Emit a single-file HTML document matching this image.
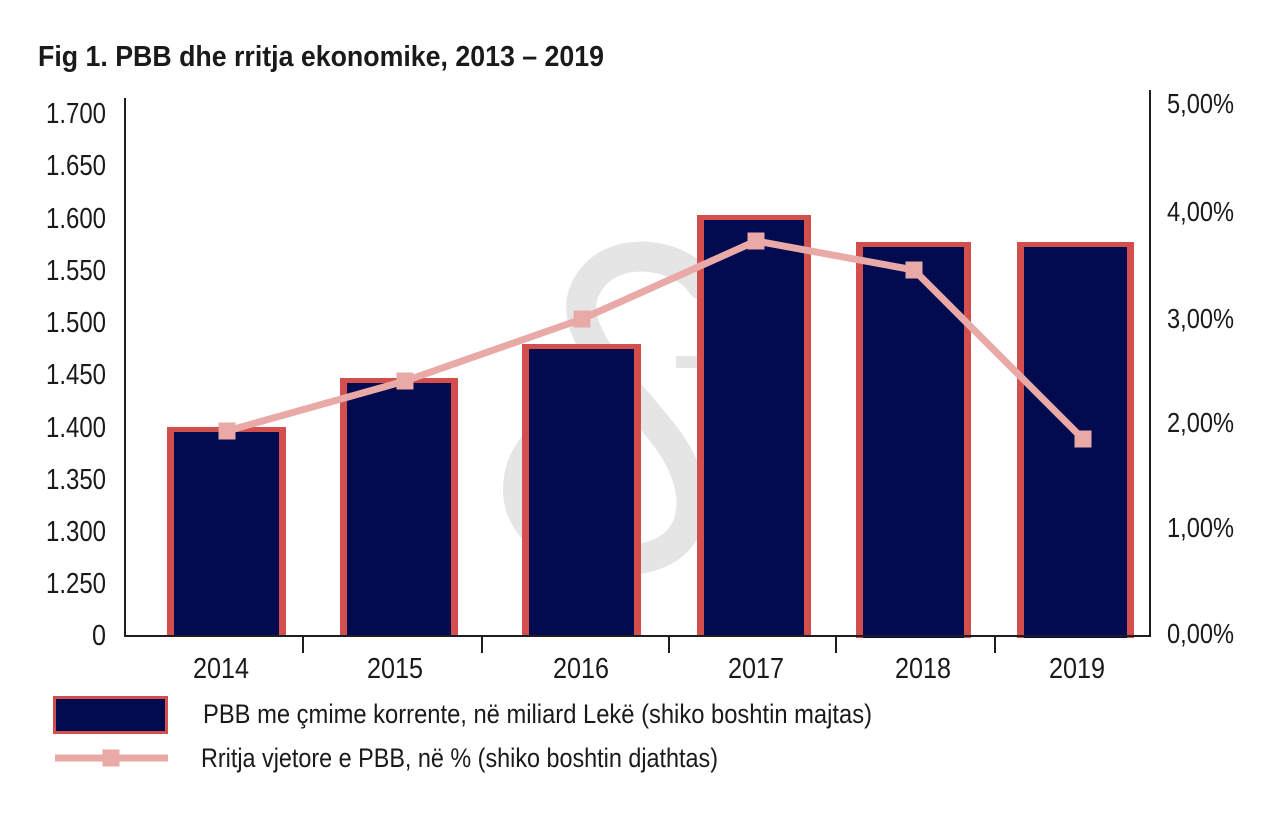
<!DOCTYPE html>
<html>
<head>
<meta charset="utf-8">
<style>
html,body{margin:0;padding:0;background:#fff;}
svg{display:block;}
text{font-family:"Liberation Sans",sans-serif;}
</style>
</head>
<body>
<svg width="1280" height="813" viewBox="0 0 1280 813" xmlns="http://www.w3.org/2000/svg">
<rect width="1280" height="813" fill="#ffffff"/>

<!-- Title -->
<text x="38" y="66" font-size="29" font-weight="bold" fill="#1a1a1a" textLength="566" lengthAdjust="spacingAndGlyphs">Fig 1. PBB dhe rritja ekonomike, 2013 – 2019</text>

<!-- watermark -->
<g fill="none" stroke="#e5e5e5" stroke-width="30" stroke-linecap="round">
<path d="M 702 285 C 682 252, 605 240, 584 292 C 568 332, 622 382, 662 432 C 704 484, 704 545, 644 558 C 584 572, 518 540, 518 490 C 518 445, 555 425, 585 412"/>
</g>
<rect x="676" y="356" width="30" height="12" fill="#e5e5e5"/>

<!-- Bars -->
<g>
<rect x="167" y="427" width="119" height="209" fill="#d24f4d"/>
<rect x="174" y="432" width="105" height="204" fill="#020b4f"/>

<rect x="340" y="378" width="118" height="258" fill="#d24f4d"/>
<rect x="347" y="383" width="104" height="253" fill="#020b4f"/>

<rect x="522" y="344" width="119" height="292" fill="#d24f4d"/>
<rect x="529" y="349" width="105" height="287" fill="#020b4f"/>

<rect x="697" y="215" width="114" height="421" fill="#d24f4d"/>
<rect x="704" y="220" width="100" height="416" fill="#020b4f"/>

<rect x="856" y="242" width="115" height="396" fill="#d24f4d"/>
<rect x="863" y="247" width="101" height="391" fill="#020b4f"/>

<rect x="1017" y="242" width="117" height="396" fill="#d24f4d"/>
<rect x="1024" y="247" width="103" height="391" fill="#020b4f"/>
</g>

<!-- Axes -->
<g stroke="#1e1e1e" stroke-width="2">
<line x1="125" y1="98" x2="125" y2="637"/>
<line x1="1150" y1="90" x2="1150" y2="637"/>
<line x1="124" y1="636" x2="1151" y2="636"/>
<line x1="303" y1="636" x2="303" y2="653"/>
<line x1="482" y1="636" x2="482" y2="653"/>
<line x1="669" y1="636" x2="669" y2="653"/>
<line x1="836" y1="636" x2="836" y2="653"/>
<line x1="995" y1="636" x2="995" y2="653"/>
</g>

<!-- Line series -->
<polyline points="227,431 405,381 582,319 756,241 914,270 1083,439" fill="none" stroke="#e8a9a7" stroke-width="7" stroke-linejoin="round"/>
<g fill="#e8a9a7">
<rect x="218.5" y="422.5" width="17" height="17"/>
<rect x="396.5" y="372.5" width="17" height="17"/>
<rect x="573.5" y="310.5" width="17" height="17"/>
<rect x="747.5" y="232.5" width="17" height="17"/>
<rect x="905.5" y="261.5" width="17" height="17"/>
<rect x="1074.5" y="430.5" width="17" height="17"/>
</g>

<!-- Left axis labels -->
<g font-size="29" fill="#1a1a1a" text-anchor="end">
<text x="106" y="123" textLength="60" lengthAdjust="spacingAndGlyphs">1.700</text>
<text x="106" y="175" textLength="60" lengthAdjust="spacingAndGlyphs">1.650</text>
<text x="106" y="228" textLength="60" lengthAdjust="spacingAndGlyphs">1.600</text>
<text x="106" y="280" textLength="60" lengthAdjust="spacingAndGlyphs">1.550</text>
<text x="106" y="332" textLength="60" lengthAdjust="spacingAndGlyphs">1.500</text>
<text x="106" y="384" textLength="60" lengthAdjust="spacingAndGlyphs">1.450</text>
<text x="106" y="437" textLength="60" lengthAdjust="spacingAndGlyphs">1.400</text>
<text x="106" y="489" textLength="60" lengthAdjust="spacingAndGlyphs">1.350</text>
<text x="106" y="541" textLength="60" lengthAdjust="spacingAndGlyphs">1.300</text>
<text x="106" y="593" textLength="60" lengthAdjust="spacingAndGlyphs">1.250</text>
<text x="106" y="645" textLength="14" lengthAdjust="spacingAndGlyphs">0</text>
</g>

<!-- Right axis labels -->
<g font-size="28" fill="#1a1a1a">
<text x="1167" y="113" textLength="67" lengthAdjust="spacingAndGlyphs">5,00%</text>
<text x="1167" y="221" textLength="67" lengthAdjust="spacingAndGlyphs">4,00%</text>
<text x="1167" y="328" textLength="67" lengthAdjust="spacingAndGlyphs">3,00%</text>
<text x="1167" y="432" textLength="67" lengthAdjust="spacingAndGlyphs">2,00%</text>
<text x="1167" y="537" textLength="67" lengthAdjust="spacingAndGlyphs">1,00%</text>
<text x="1167" y="643" textLength="67" lengthAdjust="spacingAndGlyphs">0,00%</text>
</g>

<!-- X labels -->
<g font-size="29" fill="#1a1a1a" text-anchor="middle">
<text x="221" y="678" textLength="56" lengthAdjust="spacingAndGlyphs">2014</text>
<text x="395" y="678" textLength="56" lengthAdjust="spacingAndGlyphs">2015</text>
<text x="581" y="678" textLength="56" lengthAdjust="spacingAndGlyphs">2016</text>
<text x="756" y="678" textLength="56" lengthAdjust="spacingAndGlyphs">2017</text>
<text x="923" y="678" textLength="56" lengthAdjust="spacingAndGlyphs">2018</text>
<text x="1077" y="678" textLength="56" lengthAdjust="spacingAndGlyphs">2019</text>
</g>

<!-- Legend -->
<rect x="53" y="696" width="115" height="38" fill="#d24f4d"/>
<rect x="56" y="699" width="109" height="32" fill="#020b4f"/>
<line x1="55" y1="758" x2="168" y2="758" stroke="#e8a9a7" stroke-width="7"/>
<rect x="102.5" y="749.5" width="17" height="17" fill="#e8a9a7"/>
<g font-size="27" fill="#1a1a1a">
<text x="203" y="723" textLength="669" lengthAdjust="spacingAndGlyphs">PBB me çmime korrente, në miliard Lekë (shiko boshtin majtas)</text>
<text x="201" y="767" textLength="517" lengthAdjust="spacingAndGlyphs">Rritja vjetore e PBB, në % (shiko boshtin djathtas)</text>
</g>
</svg>
</body>
</html>
